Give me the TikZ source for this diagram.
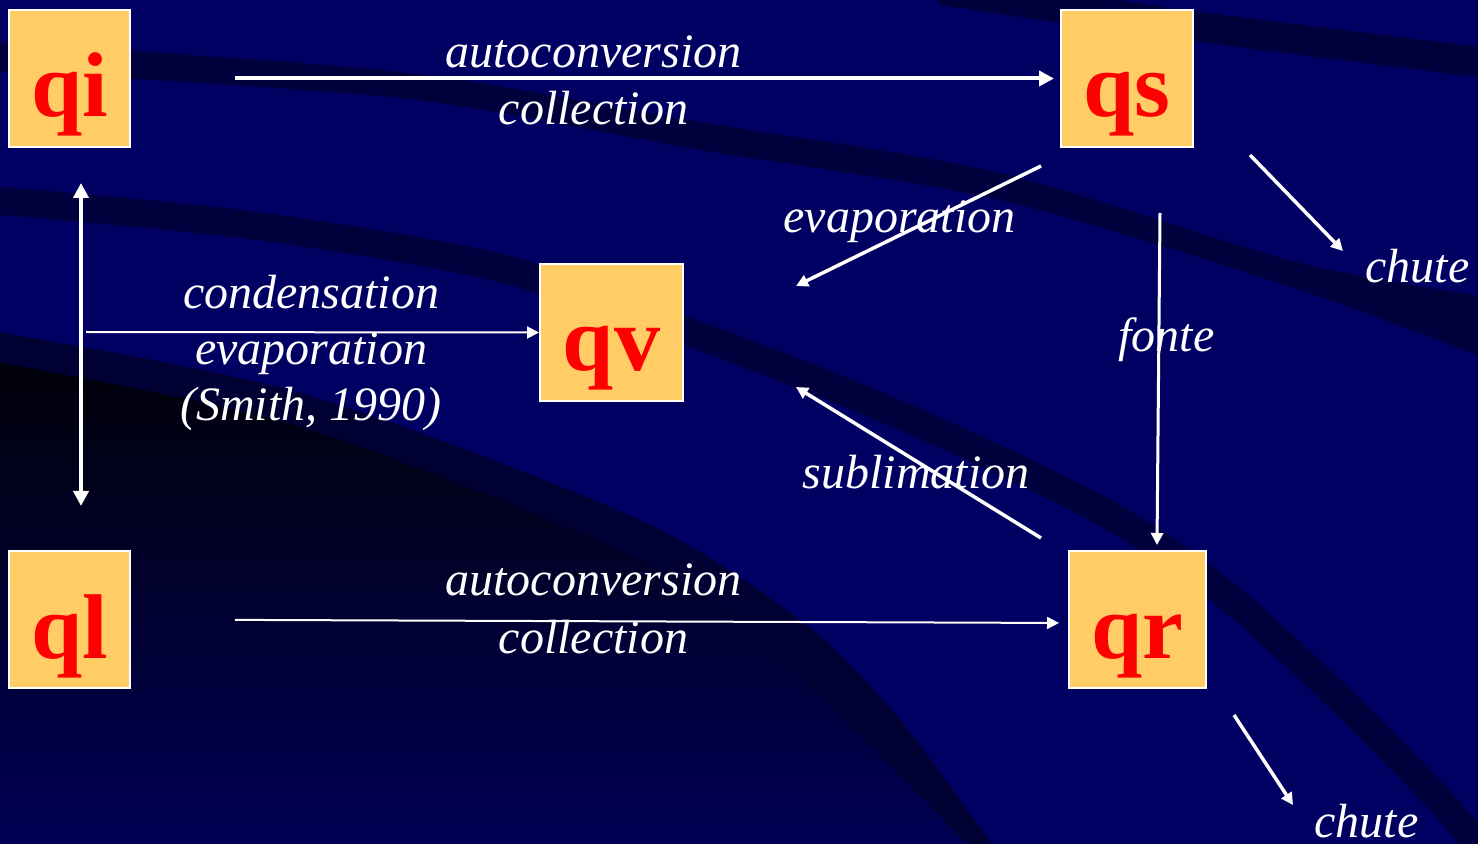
\documentclass[tikz,border=0pt]{standalone}
\usepackage{fontspec}
\setmainfont{Liberation Serif}
\usetikzlibrary{arrows.meta}

\definecolor{navy}{RGB}{0,0,98}
\definecolor{swoosh}{RGB}{0,0,60}
\definecolor{deepband}{RGB}{0,0,50}
\definecolor{deeptop}{RGB}{1,1,10}
\definecolor{deepbottom}{RGB}{0,0,90}
\definecolor{boxfill}{RGB}{255,204,102}
\definecolor{boxtext}{RGB}{255,0,0}

\begin{document}
\begin{tikzpicture}[x=0.5pt,y=-0.5pt,
  qbox/.style={draw=white, line width=1pt, fill=boxfill, text=boxtext,
    font=\bfseries\fontsize{46}{50}\selectfont, minimum height=68.5pt,
    text height=38.5pt, text depth=0pt, inner sep=0pt},
  lab/.style={text=white, font=\itshape\fontsize{24}{28}\selectfont,
    inner sep=0pt, anchor=base},
  bigflow/.style={draw=white, line width=2pt, -{Triangle[length=7.5pt,width=7.5pt]}},
  flow/.style={draw=white, line width=1.75pt, -{Triangle[length=6pt,width=6pt]}},
  thinflow/.style={draw=white, line width=1pt, -{Triangle[length=6pt,width=6pt]}}
]
\useasboundingbox (0,0) rectangle (1478,844);
\clip (0,0) rectangle (1478,844);

% background
\fill[navy] (0,0) rectangle (1478,844);
\draw[swoosh, line width=15pt] plot[smooth] coordinates {(940,-10) (1200,27) (1495,64)};
\fill[swoosh] plot[smooth] coordinates {(-10,42) (400,72) (700,122) (1000,173) (1300,263) (1495,298)}
  -- plot[smooth] coordinates {(1495,362) (1300,290) (1000,200) (700,150) (400,98) (-10,71)} -- cycle;
\draw[swoosh, line width=14pt] plot[smooth] coordinates {(-10,200) (250,225) (500,268) (700,336) (900,415) (1100,510) (1220,590) (1333,692) (1433,793) (1500,870)};
\fill[deepband] plot[smooth] coordinates {(-10,331) (300,393) (633,517) (800,620) (900,720) (1010,870)}
  -- (-10,870) -- cycle;
\shade[top color=deeptop, bottom color=deepbottom]
  plot[smooth] coordinates {(-10,361) (300,427) (633,557) (780,660) (967,844) (980,870)}
  -- (-10,870) -- cycle;

% species boxes
\node[qbox, minimum width=60.5pt] (qi) at (69.5,78.5) {qi};
\node[qbox, minimum width=66pt]   (qs) at (1127,78.5) {qs};
\node[qbox, minimum width=71.5pt] (qv) at (611.5,332.5) {qv};
\node[qbox, minimum width=60.5pt] (ql) at (69.5,619.5) {ql};
\node[qbox, minimum width=68.5pt] (qr) at (1137.5,619.5) {qr};

% process labels
\node[lab] (ac1) at (593.5,68) {autoconversion};
\node[lab] (co1) at (593.5,125) {collection};
\node[lab] (ac2) at (593.5,596) {autoconversion};
\node[lab] (co2) at (593.5,653) {collection};
\node[lab] (cond) at (311,309) {condensation};
\node[lab] (evp1) at (311,365) {evaporation};
\node[lab] (ref) at (311,421) {(Smith, 1990)};
\node[lab] (evp2) at (899.5,233) {evaporation};
\node[lab] (subl) at (916,488) {sublimation};
\node[lab] (fon) at (1166.5,352) {fonte};
\node[lab] (ch1) at (1417.5,283) {chute};
\node[lab] (ch2) at (1366.5,837) {chute};

% free ends
\coordinate (cin) at (86,332);
\coordinate (chs) at (1343,251);
\coordinate (chr) at (1293,805);

% transfers
\draw[bigflow, shorten <=52pt, shorten >=3pt] (qi.east) -- (qs.west);
\draw[thinflow, shorten <=52pt, shorten >=4.5pt] (ql.east) -- ([yshift=-1.75pt]qr.west);
\draw[draw=white, line width=2pt, {Triangle[length=7.5pt,width=7.5pt]}-{Triangle[length=7.5pt,width=7.5pt]},
  shorten <=17.5pt, shorten >=22pt] ([xshift=5.75pt]qi.south) -- ([xshift=5.75pt]ql.north);
\draw[thinflow] (cin) -- (qv.west);
\draw[flow] ([shift={(-19,18)}]qs.south west) -- ([shift={(112,23)}]qv.north east);
\draw[flow] ([shift={(-27,-12)}]qr.north west) -- ([shift={(112,-15)}]qv.south east);
\draw[flow, line width=1.5pt] ([shift={(33,65)}]qs.south) -- ([shift={(19.5,-5)}]qr.north);
\draw[flow] ([shift={(56,7)}]qs.south east) -- (chs);
\draw[flow] ([shift={(27,26)}]qr.south east) -- (chr);
\end{tikzpicture}
\end{document}
